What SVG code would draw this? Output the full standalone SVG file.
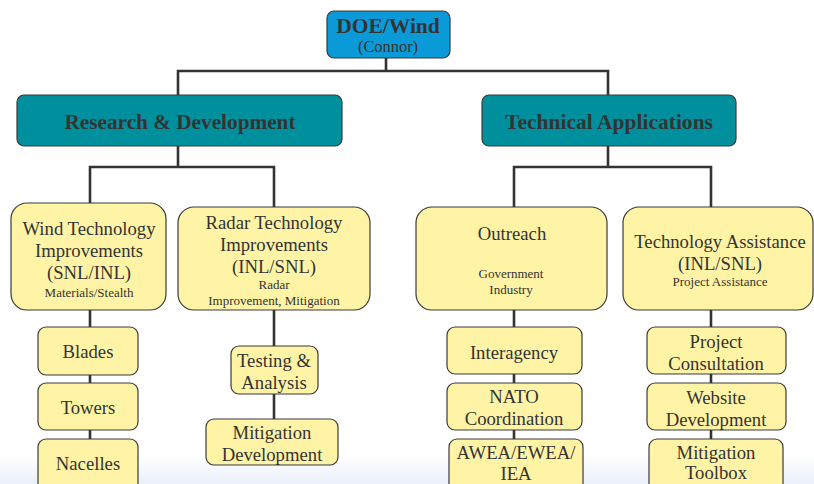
<svg xmlns="http://www.w3.org/2000/svg" width="814" height="484" viewBox="0 0 814 484" font-family="'Liberation Serif','Times New Roman',serif">
<defs>
<linearGradient id="bg" x1="0" y1="0" x2="0" y2="1">
<stop offset="0" stop-color="#ffffff"/>
<stop offset="1" stop-color="#eaf0fa"/>
</linearGradient>
<style>
text{font-family:"Liberation Serif","Times New Roman",serif;fill:#333;text-anchor:middle}
.y{fill:#fff3a6;stroke:#3a3a3a;stroke-width:1.2}
.t{fill:#00909d;stroke:#3a3a3a;stroke-width:1.2}
.b{fill:#0a9ad8;stroke:#3a3a3a;stroke-width:1.2}
.c{fill:none;stroke:#333;stroke-width:2.6}
.m{font-size:18.7px}
.s{font-size:13px}
.h{font-size:21px;font-weight:bold}
</style>
</defs>
<rect width="814" height="484" fill="#fff"/>
<rect x="0" y="455" width="814" height="29" fill="url(#bg)"/>
<g id="connectors">
<path class="c" d="M386 58V71M178 95V71H608V95"/>
<path class="c" d="M178 146V167M90 203V167H274V207"/>
<path class="c" d="M608 146V167M514 207V167H711V207"/>
<path class="c" d="M90 310V484"/>
<path class="c" d="M274 310V419"/>
<path class="c" d="M514 310V484"/>
<path class="c" d="M711 310V484"/>
</g>
<g id="doe"><rect class="b" x="327" y="11" width="123" height="47" rx="7"/><text x="388" y="33" class="h" style="font-size:21.5px">DOE/Wind</text><text x="388" y="52" style="font-size:16.4px">(Connor)</text></g>
<g id="rd"><rect class="t" x="17" y="95" width="325" height="51" rx="7"/><text x="180" y="129" class="h" textLength="231" lengthAdjust="spacingAndGlyphs">Research &amp; Development</text></g>
<g id="ta"><rect class="t" x="482" y="95" width="254" height="51" rx="7"/><text x="609" y="129" class="h" textLength="208" lengthAdjust="spacingAndGlyphs">Technical Applications</text></g>
<g id="wind"><rect class="y" x="11" y="203" width="155" height="107" rx="16"/><text x="89" y="235" class="m">Wind Technology</text><text x="89" y="257" class="m">Improvements</text><text x="89" y="279" class="m">(SNL/INL)</text><text x="89" y="297" class="s">Materials/Stealth</text></g>
<g id="radar"><rect class="y" x="178" y="207" width="192" height="103" rx="16"/><text x="274" y="229" class="m">Radar Technology</text><text x="274" y="251" class="m">Improvements</text><text x="274" y="273" class="m">(INL/SNL)</text><text x="274" y="289" class="s">Radar</text><text x="274" y="305" class="s">Improvement, Mitigation</text></g>
<g id="outreach"><rect class="y" x="416" y="207" width="191" height="103" rx="16"/><text x="512" y="240" class="m">Outreach</text><text x="511" y="278" class="s">Government</text><text x="511" y="294" class="s">Industry</text></g>
<g id="techassist"><rect class="y" x="623" y="207" width="190" height="103" rx="16"/><text x="720" y="248" class="m">Technology Assistance</text><text x="720" y="270" class="m">(INL/SNL)</text><text x="720" y="286" class="s">Project Assistance</text></g>
<g id="blades"><rect class="y" x="38" y="327" width="100" height="48" rx="8"/><text x="88" y="358" class="m">Blades</text></g>
<g id="towers"><rect class="y" x="38" y="383" width="100" height="47" rx="8"/><text x="88" y="414" class="m">Towers</text></g>
<g id="nacelles"><rect class="y" x="38" y="439" width="100" height="55" rx="8"/><text x="88" y="470" class="m">Nacelles</text></g>
<g id="testing"><rect class="y" x="231" y="346" width="87" height="48" rx="8"/><text x="274" y="367" class="m">Testing &amp;</text><text x="274" y="389" class="m">Analysis</text></g>
<g id="mitdev"><rect class="y" x="206" y="419" width="132" height="46" rx="8"/><text x="272" y="439" class="m">Mitigation</text><text x="272" y="461" class="m">Development</text></g>
<g id="interagency"><rect class="y" x="447" y="327" width="135" height="47" rx="8"/><text x="514" y="359" class="m">Interagency</text></g>
<g id="nato"><rect class="y" x="447" y="383" width="135" height="47" rx="8"/><text x="514" y="403" class="m">NATO</text><text x="514" y="425" class="m">Coordination</text></g>
<g id="awea"><rect class="y" x="449" y="439" width="134" height="55" rx="8"/><text x="516" y="459" class="m">AWEA/EWEA/</text><text x="516" y="480" class="m">IEA</text></g>
<g id="consult"><rect class="y" x="647" y="327" width="139" height="47" rx="8"/><text x="716" y="348" class="m">Project</text><text x="716" y="370" class="m">Consultation</text></g>
<g id="website"><rect class="y" x="647" y="383" width="139" height="47" rx="8"/><text x="716" y="404" class="m">Website</text><text x="716" y="426" class="m">Development</text></g>
<g id="toolbox"><rect class="y" x="649" y="439" width="134" height="55" rx="8"/><text x="716" y="459" class="m">Mitigation</text><text x="716" y="479" class="m">Toolbox</text></g>
</svg>
